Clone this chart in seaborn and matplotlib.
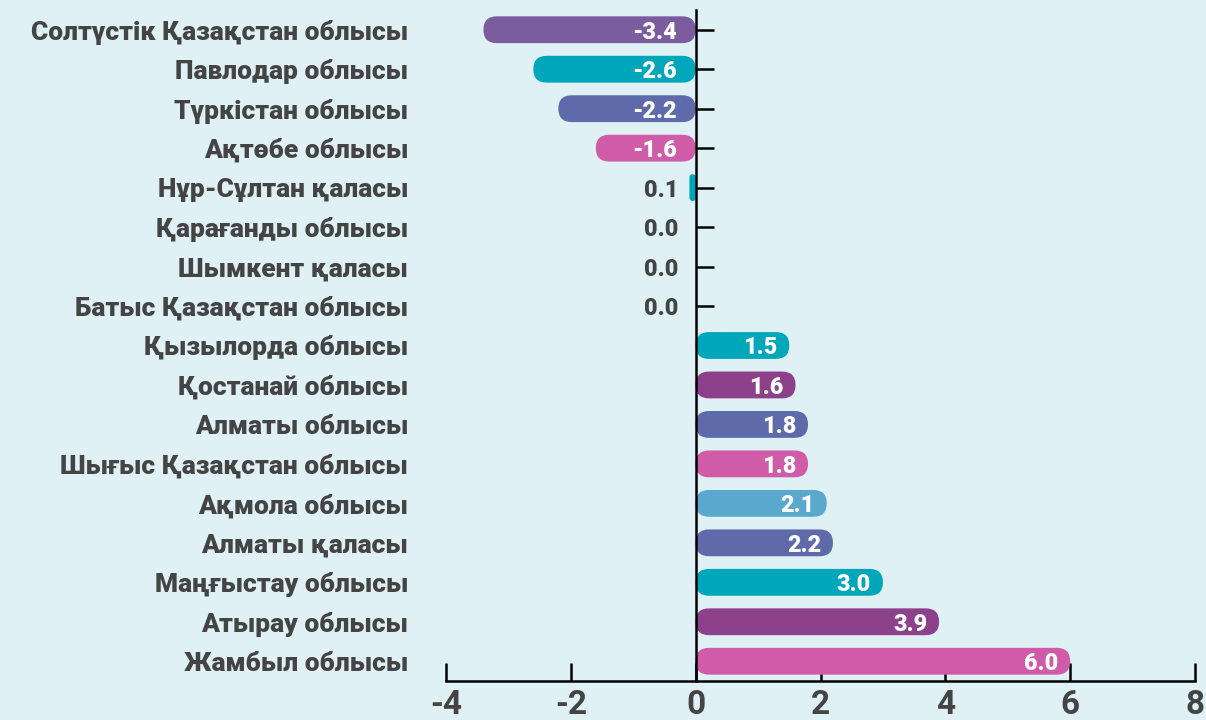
import matplotlib
matplotlib.use("Agg")
import matplotlib.pyplot as plt
from matplotlib.patches import FancyBboxPatch
import seaborn as sns
import pandas as pd

categories = ["Солтүстік Қазақстан облысы", "Павлодар облысы", "Түркістан облысы",
              "Ақтөбе облысы", "Нұр-Сұлтан қаласы", "Қарағанды облысы",
              "Шымкент қаласы", "Батыс Қазақстан облысы", "Қызылорда облысы",
              "Қостанай облысы", "Алматы облысы", "Шығыс Қазақстан облысы",
              "Ақмола облысы", "Алматы қаласы", "Маңғыстау облысы",
              "Атырау облысы", "Жамбыл облысы"]
values = [-3.4, -2.6, -2.2, -1.6, -0.1, 0.0, 0.0, 0.0, 1.5, 1.6, 1.8, 1.8,
          2.1, 2.2, 3.0, 3.9, 6.0]
value_labels = ["-3.4", "-2.6", "-2.2", "-1.6", "0.1", "0.0", "0.0", "0.0",
                "1.5", "1.6", "1.8", "1.8", "2.1", "2.2", "3.0", "3.9", "6.0"]
colors = ["#7b5c9e", "#00a6b9", "#5f6aab", "#d05ca9", "#00a6b9", "#8e418b",
          "#5f6aab", "#d05ca9", "#00a6b9", "#8e418b", "#5f6aab", "#d05ca9",
          "#5ba8ce", "#5f6aab", "#00a6b9", "#8e418b", "#d05ca9"]
x_ticks = [-4, -2, 0, 2, 4, 6, 8]

BG = "#e0f1f6"
TXT = "#444444"

sns.set_theme(style="white")
plt.rcParams["font.family"] = ["Roboto", "DejaVu Sans"]

df = pd.DataFrame({"cat": categories, "val": values})

fig = plt.figure(figsize=(12.06, 7.2), dpi=100, facecolor=BG)
ax = fig.add_axes([0.3698, 0.0542, 0.6211, 0.9319])
ax.set_facecolor(BG)

sns.barplot(data=df, y="cat", x="val", hue="cat", palette=colors, order=categories,
            hue_order=categories, legend=False, width=0.68, orient="h",
            saturation=1, ax=ax)

ax.set_xlim(-4, 8)
ax.set_ylim(16.5, -0.5)
ax.set_xticks(x_ticks)
ax.set_xticklabels([str(t) for t in x_ticks])
ax.set_xlabel("")
ax.set_ylabel("")

fig.canvas.draw()
p0 = ax.transData.transform((0, 0))
p1 = ax.transData.transform((1, 1))
px_per_x = abs(p1[0] - p0[0])
px_per_y = abs(p1[1] - p0[1])
aspect = px_per_x / px_per_y

patches = list(ax.patches)
for p in patches:
    x, y = p.get_x(), p.get_y()
    w, h = p.get_width(), p.get_height()
    fc = p.get_facecolor()
    p.remove()
    if abs(w) < 1e-9:
        continue
    x0 = min(x, x + w)
    aw = abs(w)
    y0 = min(y, y + h)
    ah = abs(h)
    r_px = ah * px_per_y / 2
    r = min(r_px / px_per_x, aw / 2)
    fb = FancyBboxPatch((x0, y0), aw, ah,
                        boxstyle=f"round,pad=0,rounding_size={r}",
                        mutation_aspect=aspect, facecolor=fc, edgecolor="none",
                        zorder=2)
    ax.add_patch(fb)

VW = "black"
VS = 16.8
for i, (v, lab) in enumerate(zip(values, value_labels)):
    if v > 0.5:
        xpos, col = v - 0.19, "white"
    elif v < -0.5:
        xpos, col = -0.3, "white"
    else:
        xpos, col = -0.27, TXT
    ax.text(xpos, i, lab, ha="right", va="center_baseline", color=col,
            fontsize=VS, fontweight=VW, zorder=3)

for s in ["top", "left"]:
    ax.spines[s].set_visible(False)
ax.spines["right"].set_position(("data", 0))
ax.spines["right"].set_linewidth(1.8)
ax.spines["right"].set_color("black")
ax.spines["right"].set_zorder(4)
ax.spines["bottom"].set_linewidth(1.8)
ax.spines["bottom"].set_color("black")

ax.tick_params(axis="y", which="major", left=False, right=True, labelleft=True,
               labelright=False, direction="out", length=13, width=1.8,
               color="black", pad=14.4, labelsize=19, labelcolor=TXT)
for lbl in ax.get_yticklabels():
    lbl.set_fontweight("black")

ax.tick_params(axis="x", which="major", bottom=True, direction="in", length=13,
               width=1.8, color="black", pad=6, labelsize=24, labelcolor=TXT)
for lbl in ax.get_xticklabels():
    lbl.set_fontweight("bold")

fig.savefig("out.png", dpi=100, facecolor=BG)
